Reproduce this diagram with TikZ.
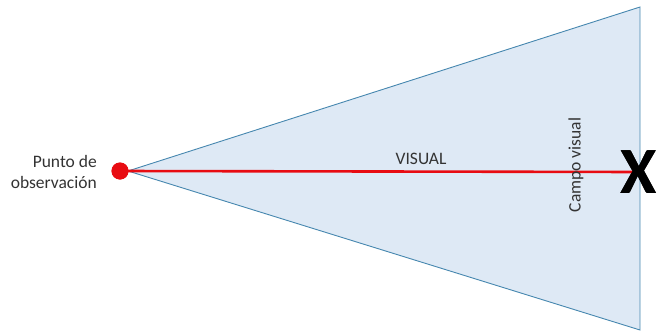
\documentclass[tikz,border=0pt]{standalone}
\usepackage{fontspec}
\setmainfont{Carlito}
\usepackage{xcolor}
\usetikzlibrary{positioning, calc}

\definecolor{conefill}{RGB}{222,233,245}
\definecolor{coneedge}{RGB}{70,135,175}
\definecolor{sightred}{RGB}{232,12,18}

\begin{document}
\begin{tikzpicture}[
  x=1pt, y=-1pt,
  cone/.style={draw=coneedge, fill=conefill, line width=0.9pt, line join=miter},
  sight/.style={draw=sightred, line width=2.6pt},
  eyedot/.style={circle, fill=sightred, minimum size=17pt, inner sep=0pt},
  target/.style={font=\fontsize{66}{66}\selectfont\bfseries, inner sep=0pt},
  lbl/.style={font=\fontsize{17.5}{21.5}\selectfont, text=black!80, inner sep=0pt}
]
  \useasboundingbox (0,0) rectangle (657,335);
  % field of view
  \coordinate (apex) at (128,171);
  \coordinate (top) at (640,7);
  \coordinate (bot) at (640,330);
  \draw[cone] (apex) -- (top) -- (bot) -- cycle;
  % observer and target
  \node[eyedot] (eye) at (120,171) {};
  \node[target] (mark) at (639,172) {X};
  \draw[sight] (eye.center) -- (mark.center);
  \node[target] at (mark) {X};
  \node[eyedot] at (eye) {};
  % labels
  \node[lbl, align=right, anchor=east] (obs) at (97,172) {Punto de\\observación};
  \node[lbl] (vis) at (421,159) {VISUAL};
  \node[lbl, rotate=90] (campo) at (576,165) {Campo visual};
\end{tikzpicture}
\end{document}
